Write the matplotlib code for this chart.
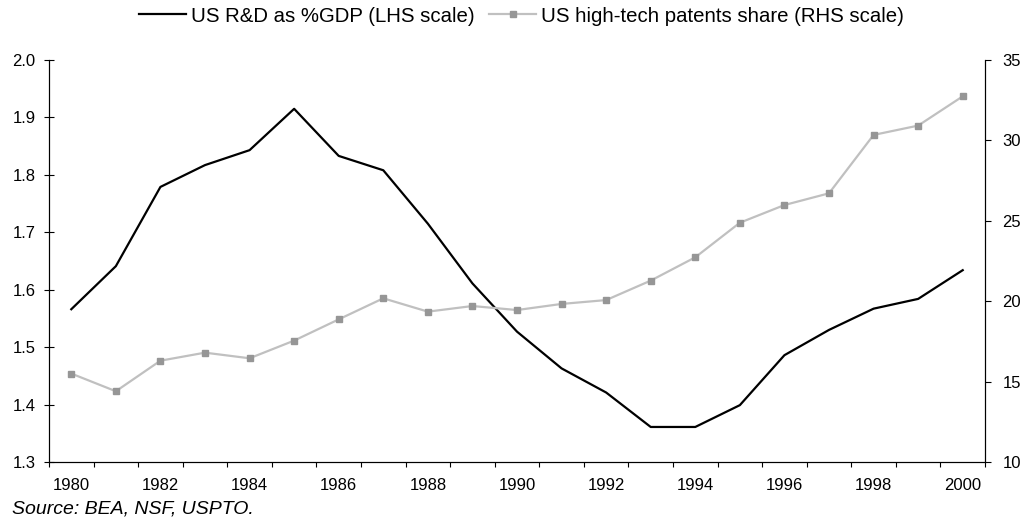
import numpy as np
import matplotlib
matplotlib.use("Agg")
import matplotlib.pyplot as plt
from matplotlib.lines import Line2D

plt.rcParams["font.family"] = ["Liberation Sans", "DejaVu Sans"]
plt.rcParams["font.size"] = 12

years = list(range(1980, 2001))
rd_gdp = [1.566, 1.641, 1.779, 1.817, 1.843, 1.915, 1.833, 1.808, 1.715, 1.611,
          1.527, 1.463, 1.421, 1.361, 1.361, 1.399, 1.486, 1.530, 1.567, 1.584, 1.634]
patents_share = [15.5, 14.4, 16.3, 16.8, 16.45, 17.55, 18.87, 20.18, 19.35, 19.7,
                 19.45, 19.83, 20.07, 21.28, 22.73, 24.88, 25.98, 26.71, 30.34, 30.92, 32.74]
left_ticks = [1.3, 1.4, 1.5, 1.6, 1.7, 1.8, 1.9, 2.0]
right_ticks = [10, 15, 20, 25, 30, 35]

x = np.arange(len(years))

fig = plt.figure(figsize=(10.27, 5.28), dpi=100)
ax = fig.add_axes([49 / 1027, 1 - 462 / 528, (985 - 49) / 1027, (462 - 60) / 528])
ax2 = ax.twinx()

ax.plot(x, rd_gdp, color="black", lw=1.6, zorder=3)
ax2.plot(x, patents_share, color="#c0c0c0", lw=1.6, marker="s", ms=5,
         mfc="#969696", mec="#969696")

ax.set_xlim(-0.5, len(years) - 0.5)
ax.set_ylim(1.3, 2.0)
ax2.set_ylim(10, 35)
ax.set_yticks(left_ticks)
ax.set_yticklabels([f"{v:.1f}" for v in left_ticks])
ax2.set_yticks(right_ticks)

ax.set_xticks(x[::2])
ax.set_xticklabels([str(y) for y in years[::2]])
ax.set_xticks(np.arange(-0.5, len(years)), minor=True)
ax.tick_params(axis="x", which="major", length=0, pad=11.5)
ax.tick_params(axis="x", which="minor", direction="out", length=3.5, width=0.8)
ax.tick_params(axis="y", direction="inout", length=7.5, width=0.8, pad=6)
ax2.tick_params(axis="y", direction="out", length=4.5, width=0.8, pad=8)

for a in (ax, ax2):
    a.spines["top"].set_visible(False)
    for s in ("left", "right", "bottom"):
        a.spines[s].set_linewidth(0.8)

handles = [
    Line2D([], [], color="black", lw=1.6),
    Line2D([], [], color="#c0c0c0", lw=1.6, marker="s", ms=5, mfc="#969696", mec="#969696"),
]
labels = ["US R&D as %GDP (LHS scale)", "US high-tech patents share (RHS scale)"]
fig.legend(handles, labels, loc="center", bbox_to_anchor=(521.5 / 1027, 1 - 16 / 528),
           ncol=2, frameon=False, fontsize=14.7, handlelength=2.3, handletextpad=0.25,
           columnspacing=0.73, borderpad=0, borderaxespad=0)

fig.text(12 / 1027, 1 - 509 / 528, "Source: BEA, NSF, USPTO.", style="italic",
         fontsize=14, ha="left", va="center")

fig.savefig("out.png", dpi=100)
